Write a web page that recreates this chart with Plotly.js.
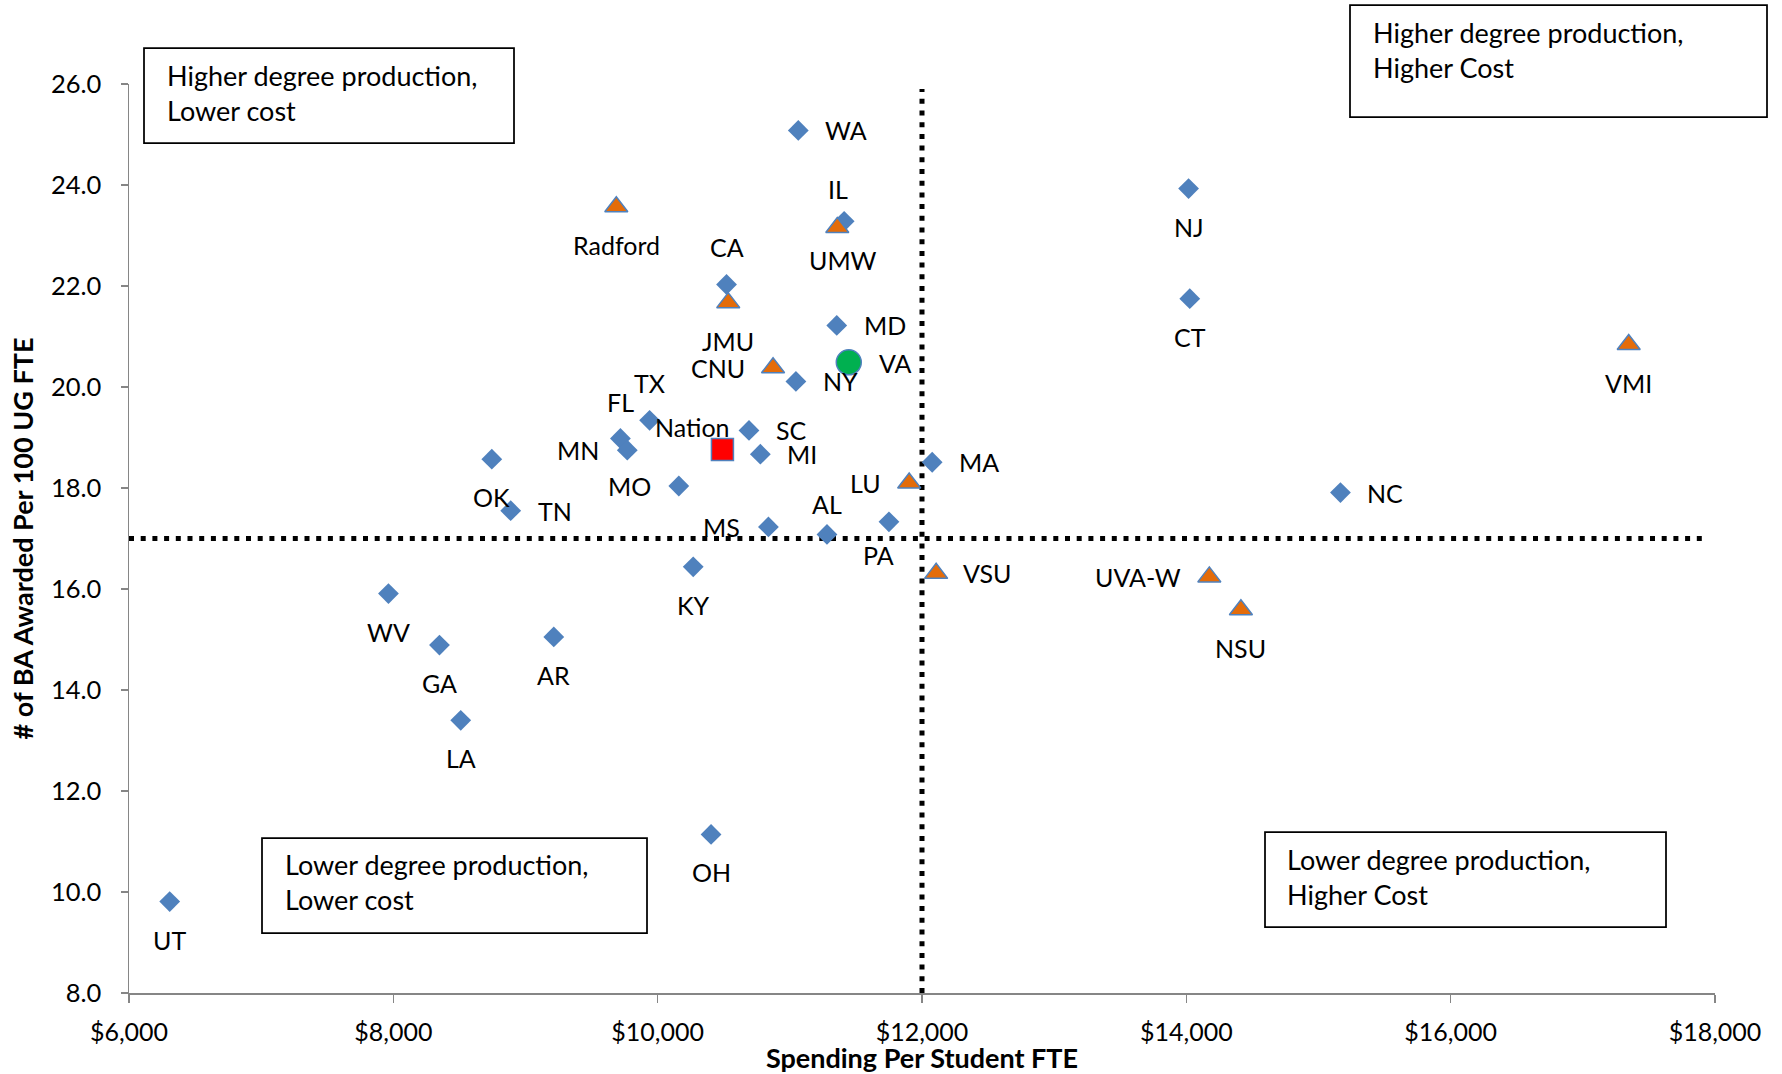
<!DOCTYPE html>
<html>
<head>
<meta charset="utf-8">
<script src="https://cdn.plot.ly/plotly-3.0.1.min.js"></script>
<style>html,body{margin:0;padding:0;background:#fff;}#chart{width:1782px;height:1074px;}</style>
</head>
<body>
<div id="chart"></div>
<script>
// ---- Data ----
const states = ['WA','IL','CA','MD','NY','TX','SC','FL','MN','MI','OK','MO','TN','MS','AL','PA','KY','WV','GA','AR','LA','OH','UT','NJ','CT','MA','NC'];
const stateSpending = [11064,11411,10521,11355,11046,9939,10691,9718,9770,10777,8745,10160,8888,10838,11281,11750,10269,7963,8349,9214,8510,10404,6308,14017,14026,12077,15166];
const stateBA = [25.08,23.28,22.03,21.22,20.11,19.34,19.14,18.98,18.75,18.67,18.57,18.04,17.55,17.23,17.08,17.33,16.44,15.91,14.89,15.05,13.40,11.14,9.81,23.93,21.75,18.51,17.91];

const schools = ['Radford','UMW','JMU','CNU','LU','VSU','UVA-W','NSU','VMI'];
const schoolSpending = [9687,11359,10534,10873,11903,12107,14174,14413,17347];
const schoolBA = [23.57,23.16,21.67,20.38,18.10,16.31,16.24,15.59,20.84];

const vaName = ['VA'];
const vaSpending = [11446];
const vaBA = [20.49];

const nationName = ['Nation'];
const nationSpending = [10490];
const nationBA = [18.76];

// quadrant reference lines
const refSpending = 12000;
const refBA = 17;
const refVertBA = [8, 25.9];
const refHorizSpending = [6000, 17950];

const xTickVals = [6000, 8000, 10000, 12000, 14000, 16000, 18000];
const xTickText = ['$6,000', '$8,000', '$10,000', '$12,000', '$14,000', '$16,000', '$18,000'];
const yTickVals = [8, 10, 12, 14, 16, 18, 20, 22, 24, 26];

const quadrantTexts = [
  'Higher degree production,<br>Lower cost',
  'Higher degree production,<br>Higher Cost',
  'Lower degree production,<br>Lower cost',
  'Lower degree production,<br>Higher Cost'
];

// ---- Label placement (style, not data) ----
const stateLabelSide = ['R','IL','A','R','R','A','R','A','L','R','B','L','R','L','AL','PA','B','B','B','B','B','B','B','B','B','R','R'];
const schoolLabelSide = ['B','UMW','B','L','L','R','L','B','B'];
const vaLabelSide = ['VA'];
const nationLabelSide = ['NATION'];
const sideStyles = {
  R: {xanchor:'left', xshift:25, yshift:0},
  L: {xanchor:'right', xshift:-26, yshift:0},
  A: {xanchor:'center', xshift:0, yshift:37},
  B: {xanchor:'center', xshift:0, yshift:-38},
  IL: {xanchor:'center', xshift:-6, yshift:32},
  UMW: {xanchor:'center', xshift:6, yshift:-33},
  AL: {xanchor:'center', xshift:0, yshift:30},
  PA: {xanchor:'center', xshift:-10, yshift:-33},
  VA: {xanchor:'left', xshift:28, yshift:-1},
  NATION: {xanchor:'center', xshift:-30, yshift:23}
};

const FONT = 'Lato, "Open Sans", sans-serif';
const LABEL_SIZE = 25;
const BOX_SIZE = 27;

function labelAnns(names, xs, ys, sides) {
  return names.map((n, i) => {
    const s = sideStyles[sides[i]];
    return {
      x: xs[i], y: ys[i], xref: 'x', yref: 'y', text: n, showarrow: false,
      xanchor: s.xanchor, yanchor: 'middle', xshift: s.xshift, yshift: s.yshift,
      font: {family: FONT, size: LABEL_SIZE, color: '#000'}
    };
  });
}

// plot area geometry in pixels (for paper-referenced decorations)
const M = {l: 129, r: 67, t: 84, b: 81};
const W = 1782, H = 1074;
const PW = W - M.l - M.r, PH = H - M.t - M.b;
const px = v => (v - M.l) / PW;
const py = v => (H - M.b - v) / PH;

const boxes = [
  {x0:144, x1:514, y0:48, y1:143, tx:165, ty:93},
  {x0:1350, x1:1767, y0:5, y1:117, tx:1371, ty:50},
  {x0:262, x1:647, y0:838, y1:933, tx:283, ty:882},
  {x0:1265, x1:1666, y0:832, y1:927, tx:1285, ty:877}
];

const shapes = boxes.map(b => ({
  type:'rect', xref:'paper', yref:'paper',
  x0: px(b.x0), x1: px(b.x1), y0: py(b.y1), y1: py(b.y0),
  line:{color:'#000', width:1.75}, fillcolor:'rgba(255,255,255,1)', layer:'above'
}));

const boxAnns = boxes.map((b, i) => ({
  xref:'paper', yref:'paper', x: px(b.tx), y: py(b.ty), xanchor:'left', yanchor:'middle',
  align:'left', text: quadrantTexts[i], showarrow:false,
  font:{family: FONT, size: BOX_SIZE, color:'#000'}
}));

const dotLine = {color:'#000', width:5, dash:'5px,6.7px'};

const traces = [
  {x:[refSpending, refSpending], y:refVertBA, mode:'lines', line:dotLine, hoverinfo:'skip', showlegend:false},
  {x:refHorizSpending, y:[refBA, refBA], mode:'lines', line:dotLine, hoverinfo:'skip', showlegend:false},
  {x:stateSpending, y:stateBA, text:states, mode:'markers', name:'States',
   marker:{symbol:'diamond', size:16, color:'#4F81BD', line:{width:0}}},
  {x:schoolSpending, y:schoolBA, text:schools, mode:'markers', name:'Virginia institutions',
   marker:{symbol:'triangle-up', size:20, color:'#E46C0A', line:{width:1.5, color:'#4F81BD'}}},
  {x:vaSpending, y:vaBA, text:vaName, mode:'markers', name:'VA',
   marker:{symbol:'circle', size:25, color:'#00B050', line:{width:1.5, color:'#4F81BD'}}},
  {x:nationSpending, y:nationBA, text:nationName, mode:'markers', name:'Nation',
   marker:{symbol:'square', size:22, color:'#FF0000', line:{width:1.5, color:'#4F81BD'}}}
];

const annotations = [].concat(
  labelAnns(states, stateSpending, stateBA, stateLabelSide),
  labelAnns(schools, schoolSpending, schoolBA, schoolLabelSide),
  labelAnns(vaName, vaSpending, vaBA, vaLabelSide),
  labelAnns(nationName, nationSpending, nationBA, nationLabelSide),
  boxAnns
);

const layout = {
  width: W, height: H,
  margin: {l:M.l, r:M.r, t:M.t, b:M.b, pad:0},
  paper_bgcolor:'#fff', plot_bgcolor:'#fff',
  showlegend:false,
  font:{family: FONT, size: 25, color:'#000'},
  xaxis:{
    range:[6000, 18000], tickmode:'array', tickvals:xTickVals, ticktext:xTickText,
    showgrid:false, zeroline:false, showline:true, linecolor:'#868686', linewidth:1.5,
    ticks:'outside', ticklen:8, tickwidth:1.5, tickcolor:'#868686',
    tickfont:{family:FONT, size:25, color:'#000'}, ticklabelstandoff:8,
    title:{text:'Spending Per Student FTE', font:{family:FONT, size:27, color:'#000', weight:'bold'}, standoff:3},
    automargin:false
  },
  yaxis:{
    range:[8, 26], tickvals:yTickVals, tickformat:'.1f',
    showgrid:false, zeroline:false, showline:true, linecolor:'#868686', linewidth:1.5,
    ticks:'outside', ticklen:7, tickwidth:1.5, tickcolor:'#868686',
    tickfont:{family:FONT, size:25.5, color:'#000'}, ticklabelstandoff:14,
    title:{text:'# of BA Awarded Per 100 UG FTE', font:{family:FONT, size:27, color:'#000', weight:'bold'}, standoff:9},
    automargin:false
  },
  shapes: shapes,
  annotations: annotations
};

Plotly.newPlot('chart', traces, layout, {staticPlot:true, displayModeBar:false});
</script>
</body>
</html>
